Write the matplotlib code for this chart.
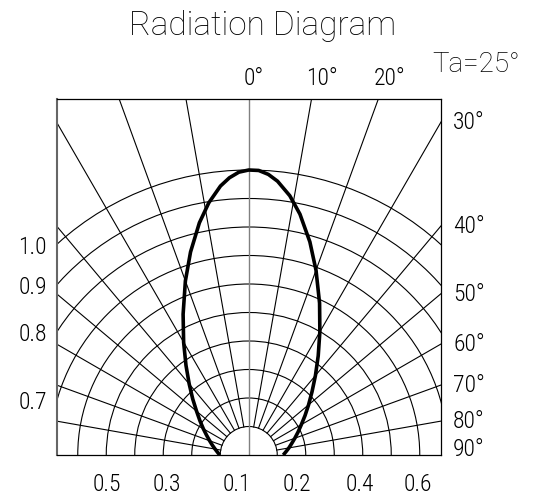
import numpy as np
import matplotlib
matplotlib.use('Agg')
import matplotlib.pyplot as plt
from matplotlib.patches import Arc

# relative intensity vs. angle (deg from axis, negative = left side)
lobe_angle = [-90, -85, -80, -75, -70, -65, -60, -55, -50, -45, -40, -35, -30, -25, -20, -16, -12, -9, -6, -4, -2,
              0, 2, 4, 6, 9, 12, 16, 20, 25, 30, 35, 40, 45, 50, 55, 60, 65, 70, 75, 80, 85, 90]
lobe_intensity = [0.102, 0.110, 0.120, 0.132, 0.146, 0.163, 0.184, 0.209, 0.239, 0.278, 0.325, 0.384, 0.457,
                  0.545, 0.650, 0.741, 0.833, 0.896, 0.949, 0.975, 0.993,
                  1.000, 0.999, 0.987, 0.966, 0.921, 0.864, 0.778, 0.690, 0.588, 0.499, 0.425, 0.364, 0.314,
                  0.274, 0.241, 0.213, 0.191, 0.172, 0.156, 0.143, 0.131, 0.121]

circle_levels = [0.1, 0.2, 0.3, 0.4, 0.5, 0.6, 0.7, 0.8, 0.9, 1.0]
spoke_angles = [-80, -70, -60, -50, -40, -30, -20, -10, 10, 20, 30, 40, 50, 60, 70, 80]

left_levels = [1.0, 0.9, 0.8, 0.7]
left_labels = ['1.0', '0.9', '0.8', '0.7']
bottom_levels = [-0.5, -0.3, -0.1, 0.2, 0.4, 0.6]
bottom_labels = ['0.5', '0.3', '0.1', '0.2', '0.4', '0.6']
top_angles = [0, 10, 20]
right_angles = [30, 40, 50, 60, 70, 80, 90]

PX = 1 / 285.0          # data units per pixel (r = 1.0 spans 285 px)
XW = 191.75 * PX        # half width of the frame
YT = 356 * PX           # frame height
bottom_nudge = [1, 4, 17, -9, -3, -2]

num_font = dict(family='Roboto Condensed', weight='light', fontsize=17)
txt_font = dict(family='Roboto', weight='light')

fig = plt.figure(figsize=(5.35, 4.98), dpi=100)
ax = fig.add_axes([57 / 535, 43 / 498, 383.5 / 535, 356 / 498])
ax.set_xlim(-XW, XW)
ax.set_ylim(0, YT)
ax.set_xticks([])
ax.set_yticks([])
for side in ['top', 'right', 'bottom']:
    ax.spines[side].set_linewidth(0.9)
    ax.spines[side].set_color('black')
ax.spines['left'].set_linewidth(1.5)
ax.spines['left'].set_color('#666666')

# concentric half circles
for r in circle_levels:
    ax.add_patch(Arc((0, 0), 2 * r, 2 * r, theta1=0, theta2=180, lw=0.8, color='black'))

# spokes every 10 deg, starting at the inner circle
for ang in spoke_angles:
    t = np.radians(ang)
    ax.plot([0.1 * np.sin(t), 2 * np.sin(t)], [0.1 * np.cos(t), 2 * np.cos(t)], color='black', lw=0.8)
ax.plot([0, 0], [0, YT], color='#808080', lw=1.0)

# radiation lobe
th = np.radians(lobe_angle)
r = np.array(lobe_intensity)
ax.plot(r * np.sin(th), r * np.cos(th), color='black', lw=2.6, solid_joinstyle='round', solid_capstyle='butt')

# intensity labels on the left, where the circles meet the frame
for lev, lab in zip(left_levels, left_labels):
    y = np.sqrt(lev ** 2 - XW ** 2) - 3 * PX
    ax.text(-XW - 10 * PX, y, lab, ha='right', va='center', clip_on=False, **num_font)

# intensity labels below the frame
for lev, lab, dx in zip(bottom_levels, bottom_labels, bottom_nudge):
    ax.text(lev + dx * PX, -29 * PX, lab, ha='center', va='center', clip_on=False, **num_font)

# angle labels above the frame
for ang in top_angles:
    x = YT * np.tan(np.radians(ang))
    ax.text(x - 5 * PX, YT + 20.5 * PX, f'{ang}°', ha='left', va='center', clip_on=False, **num_font)

# angle labels on the right
for ang in right_angles:
    y = XW / np.tan(np.radians(ang)) if ang < 90 else 0
    y = min(max(y, 6 * PX), YT - 4.5 * PX)
    ax.text(XW + 12.5 * PX, y, f'{ang}°', ha='left', va='center', clip_on=False, **num_font)

fig.text(263 / 535, 1 - 35 / 498, 'Radiation Diagram', ha='center', va='baseline', fontsize=24, **txt_font)
fig.text(476 / 535, 1 - 72.5 / 498, 'Ta=25°', ha='center', va='baseline', fontsize=20, **txt_font)

fig.savefig('out.png', dpi=100)
